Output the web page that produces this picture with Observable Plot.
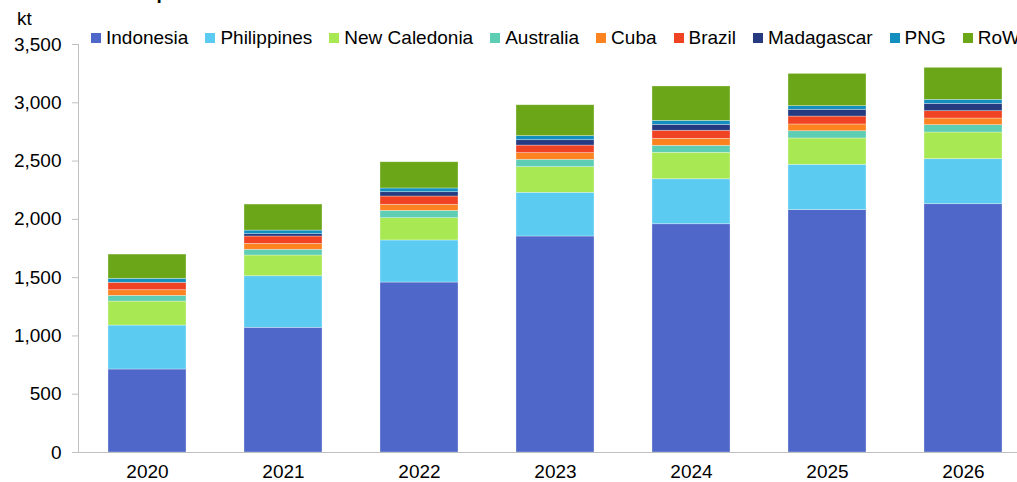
<!DOCTYPE html>
<html>
<head>
<meta charset="utf-8">
<script src="https://cdn.jsdelivr.net/npm/d3@7"></script>
<script src="https://cdn.jsdelivr.net/npm/@observablehq/plot@0.6"></script>
<style>
  html, body { margin: 0; padding: 0; background: #fff; overflow: hidden; }
  #wrap { position: relative; width: 1017px; height: 482px; overflow: hidden; font-family: "Liberation Sans", Arial, sans-serif; color: #000; }
  #title { position: absolute; left: 33px; top: -17px; font-size: 19px; line-height: 19px; font-weight: bold; white-space: nowrap; }
  #unit { position: absolute; left: 17px; top: 9px; font-size: 19px; line-height: 19px; }
  #legend { position: absolute; left: 91px; top: 28px; display: flex; align-items: center; white-space: nowrap; font-size: 19px; line-height: 19px; }
  .item { display: flex; align-items: center; margin-right: 17px; }
  .sw { width: 10px; height: 10px; margin-right: 5px; flex: none; }
  #chart { position: absolute; left: 0; top: 0; }
</style>
</head>
<body>
<div id="wrap">
  <div id="chart"></div>
  <div id="title">Global nickel production forecast</div>
  <div id="unit">kt</div>
  <div id="legend"></div>
</div>
<script>
const years = ["2020", "2021", "2022", "2023", "2024", "2025", "2026"];
const countries = ["Indonesia", "Philippines", "New Caledonia", "Australia", "Cuba", "Brazil", "Madagascar", "PNG", "RoW"];
const colors = ["#4f67c8", "#5ccbf1", "#a8e853", "#5dcdb3", "#fd8220", "#f04323", "#263a80", "#128fbe", "#6aa617"];

const indonesia    = [712, 1070, 1458, 1853, 1958, 2079, 2130];
const philippines  = [377,  442,  361,  375,  386,  389,  386];
const newCaledonia = [206,  178,  191,  220,  227,  226,  229];
const australia    = [ 49,   49,   63,   63,   60,   62,   63];
const cuba         = [ 48,   51,   52,   57,   60,   58,   57];
const brazil       = [ 64,   63,   71,   65,   69,   68,   63];
const madagascar   = [  0,   20,   37,   46,   51,   58,   63];
const png          = [ 34,   31,   32,   35,   34,   31,   34];
const row          = [208,  223,  225,  265,  295,  277,  275];

const yTicks = [0, 500, 1000, 1500, 2000, 2500, 3000, 3500];

const seriesValues = [indonesia, philippines, newCaledonia, australia, cuba, brazil, madagascar, png, row];
const data = [];
countries.forEach((c, i) => {
  years.forEach((y, j) => data.push({year: y, country: c, value: seriesValues[i][j]}));
});

const chart = Plot.plot({
  width: 1017,
  height: 482,
  marginLeft: 78,
  marginRight: 0,
  marginTop: 44,
  marginBottom: 30,
  style: { fontFamily: "'Liberation Sans', Arial, sans-serif", fontSize: "19px", color: "#000", background: "transparent" },
  x: { type: "band", domain: years, range: [78, 1031], paddingInner: 0.427, paddingOuter: 0.2135, label: null },
  y: { domain: [0, 3500], label: null },
  color: { domain: countries, range: colors },
  marks: [
    Plot.barY(data, { x: "year", y: "value", fill: "country", order: countries, stroke: "white", strokeWidth: 0.7, strokeOpacity: 0.45 }),
    Plot.frame({ anchor: "left", stroke: "#c0c0c0" }),
    Plot.ruleY([0], { stroke: "#c0c0c0", strokeWidth: 1 }),
    Plot.axisY({ ticks: yTicks, tickFormat: d3.format(","), tickSize: 6, tickPadding: 11, stroke: "#c0c0c0", fill: "#000", strokeOpacity: 1, label: null }),
    Plot.axisX({ tickSize: 0, tickPadding: 12, fill: "#000", label: null })
  ]
});
document.getElementById("chart").appendChild(chart);

const legend = document.getElementById("legend");
countries.forEach((c, i) => {
  const item = document.createElement("div");
  item.className = "item";
  const sw = document.createElement("span");
  sw.className = "sw";
  sw.style.background = colors[i];
  const t = document.createElement("span");
  t.textContent = c;
  item.appendChild(sw);
  item.appendChild(t);
  legend.appendChild(item);
});
</script>
</body>
</html>
